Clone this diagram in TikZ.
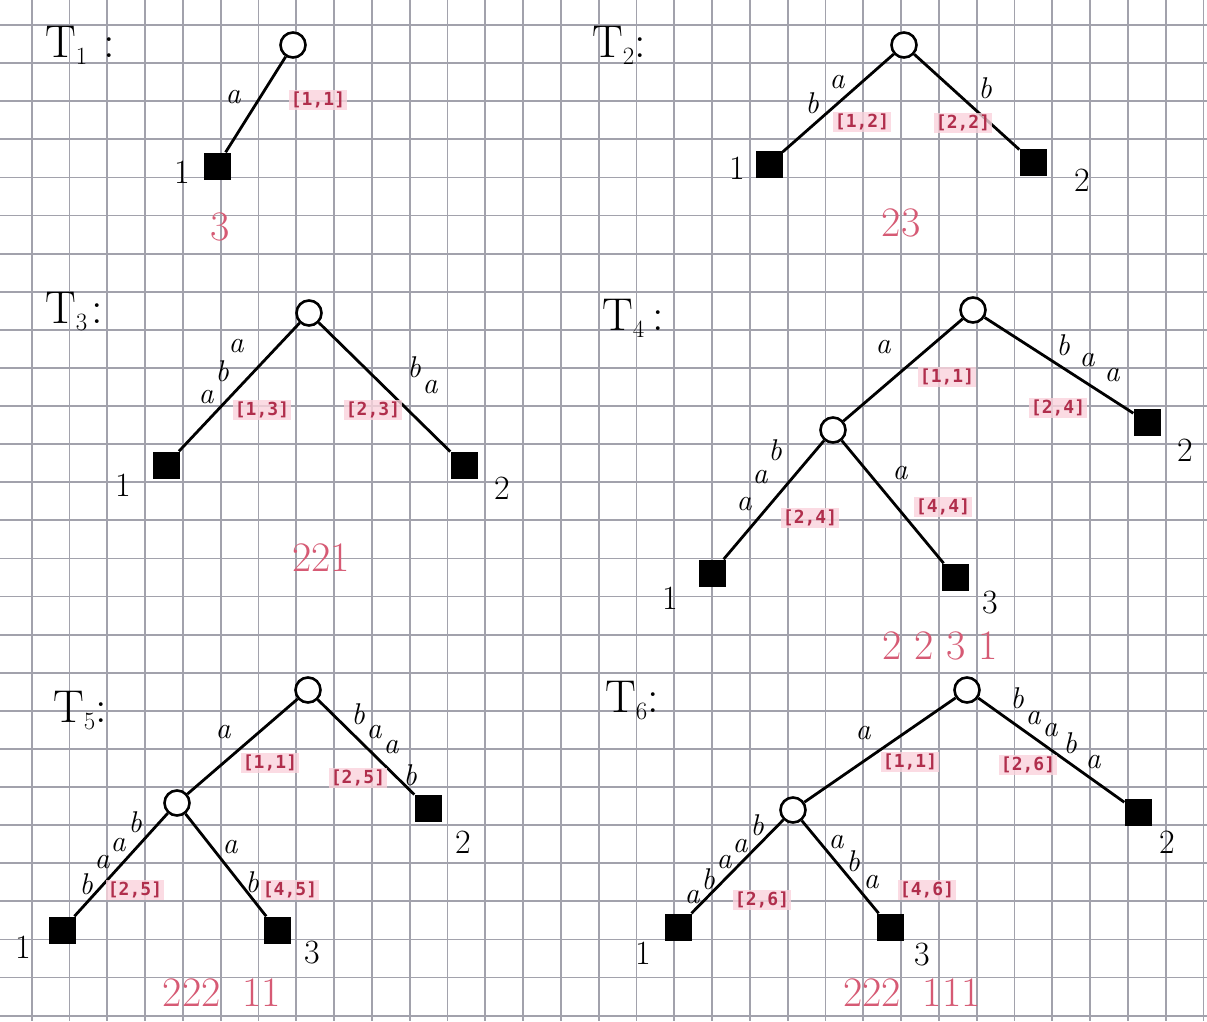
\documentclass[tikz,border=0pt]{standalone}
\usepackage{fontspec}
\newfontfamily\ivfont{DejaVu Sans Mono}
\usetikzlibrary{positioning}
\definecolor{ivred}{HTML}{B02E4C}
\definecolor{ivpink}{HTML}{FAD3DC}
\definecolor{cntred}{HTML}{D65A74}
\definecolor{gridgray}{HTML}{A2A2AC}

\begin{document}
\begin{tikzpicture}[x=1pt, y=-1pt,
    gridline/.style={draw=gridgray, line width=1.8pt},
    edge/.style={line width=2.8pt},
    inode/.style={circle, draw, line width=2.6pt, fill=white, minimum size=25pt, inner sep=0pt},
    leafnode/.style={rectangle, fill=black, minimum size=27pt, inner sep=0pt},
    sym/.style={font=\fontsize{30}{30}\selectfont\itshape, inner sep=0pt},
    num/.style={font=\fontsize{34}{34}\selectfont, inner sep=0pt},
    iv/.style={font=\ivfont\bfseries\fontsize{18}{18}\selectfont, text=ivred, fill=ivpink, fill opacity=0.8, text opacity=1, inner sep=1.5pt},
    cnt/.style={font=\fontsize{42}{42}\selectfont, text=cntred, inner sep=0pt},
    ttl/.style={font=\fontsize{46}{46}\selectfont, anchor=base west, inner sep=0pt},
  ]
    % Squared paper
    \fill[white] (0,0) rectangle (1207,1021);
    \useasboundingbox (0,0) rectangle (1207,1021);
    \foreach \i in {0,...,31}
      \draw[gridline] ({31.7+37.8*\i},0) -- ({31.7+37.8*\i},1021);
    \foreach \j in {0,...,26}
      \draw[gridline] (0,{25+38.1*\j}) -- (1207,{25+38.1*\j});

    % Titles
    \node[ttl] (t1) at (45,57) {T$_1$\hspace{16pt}:};
    \node[ttl] (t2) at (592,57) {T$_2$:};
    \node[ttl] (t3) at (45,323) {T$_3$\hspace{4pt}:};
    \node[ttl] (t4) at (602,330) {T$_4$\hspace{8pt}:};
    \node[ttl] (t5) at (53,722) {T$_5$:};
    \node[ttl] (t6) at (605,712) {T$_6$:};

    % T1
    \node[inode] (r1) at (293,45) {};
    \node[leafnode] (l11) at (217,166) {};
    \draw[edge] (r1) -- (l11);
    \node[num] (n11) at (182,172) {1};
    \node[sym] (e1a) at (233,97) {a};
    \node[iv] (i11) at (318,100) {[1,1]};
    \node[cnt] (c1) at (220,227) {3};

    % T2
    \node[inode] (r2) at (904,45) {};
    \node[leafnode] (l21) at (769,164) {};
    \node[leafnode] (l22) at (1033,162) {};
    \draw[edge] (r2) -- (l21);
    \draw[edge] (r2) -- (l22);
    \node[num] (n21) at (737,168) {1};
    \node[num] (n22) at (1082,180) {2};
    \foreach \c/\x/\y [count=\k] in {a/837/82, b/812/103}
      \node[sym] (e21\k) at (\x,\y) {\c};
    \node[sym] (e22) at (985,88) {b};
    \node[iv] (i21) at (862,122) {[1,2]};
    \node[iv] (i22) at (963,123) {[2,2]};
    \node[cnt] (c2) at (901,223) {23};

    % T3
    \node[inode] (r3) at (309,313) {};
    \node[leafnode] (l31) at (166,465) {};
    \node[leafnode] (l32) at (464,465) {};
    \draw[edge] (r3) -- (l31);
    \draw[edge] (r3) -- (l32);
    \node[num] (n31) at (123,485) {1};
    \node[num] (n32) at (502,488) {2};
    \foreach \c/\x/\y [count=\k] in {a/236/346, b/222/371, a/206/397}
      \node[sym] (e31\k) at (\x,\y) {\c};
    \foreach \c/\x/\y [count=\k] in {b/414/367, a/430/387}
      \node[sym] (e32\k) at (\x,\y) {\c};
    \node[iv] (i31) at (262,410) {[1,3]};
    \node[iv] (i32) at (373,410) {[2,3]};
    \node[cnt] (c3) at (321,558) {221};

    % T4
    \node[inode] (r4) at (973,310) {};
    \node[inode] (m4) at (833,430) {};
    \node[leafnode] (l41) at (712,573) {};
    \node[leafnode] (l42) at (1147,422) {};
    \node[leafnode] (l43) at (955,577) {};
    \draw[edge] (r4) -- (m4);
    \draw[edge] (r4) -- (l42);
    \draw[edge] (m4) -- (l41);
    \draw[edge] (m4) -- (l43);
    \node[num] (n41) at (670,598) {1};
    \node[num] (n42) at (1185,450) {2};
    \node[num] (n43) at (990,603) {3};
    \node[sym] (e4m) at (883,347) {a};
    \foreach \c/\x/\y [count=\k] in {b/1063/345, a/1087/360, a/1112/375}
      \node[sym] (e42\k) at (\x,\y) {\c};
    \foreach \c/\x/\y [count=\k] in {b/775/450, a/760/477, a/744/504}
      \node[sym] (e41\k) at (\x,\y) {\c};
    \node[sym] (e43) at (900,473) {a};
    \node[iv] (i4m) at (947,377) {[1,1]};
    \node[iv] (i42) at (1058,408) {[2,4]};
    \node[iv] (i41) at (810,518) {[2,4]};
    \node[iv] (i43) at (943,507) {[4,4]};
    \node[cnt] (c4) at (940,646) {2 2 3 1};

    % T5
    \node[inode] (r5) at (308,690) {};
    \node[inode] (m5) at (177,803) {};
    \node[leafnode] (l51) at (62,930) {};
    \node[leafnode] (l52) at (428,808) {};
    \node[leafnode] (l53) at (277,930) {};
    \draw[edge] (r5) -- (m5);
    \draw[edge] (r5) -- (l52);
    \draw[edge] (m5) -- (l51);
    \draw[edge] (m5) -- (l53);
    \node[num] (n51) at (23,947) {1};
    \node[num] (n52) at (463,842) {2};
    \node[num] (n53) at (312,953) {3};
    \node[sym] (e5m) at (223,732) {a};
    \foreach \c/\x/\y [count=\k] in {b/358/714, a/374/732, a/391/747, b/410/775}
      \node[sym] (e52\k) at (\x,\y) {\c};
    \foreach \c/\x/\y [count=\k] in {b/86/884, a/102/862, a/118/845, b/135/822}
      \node[sym] (e51\k) at (\x,\y) {\c};
    \foreach \c/\x/\y [count=\k] in {a/230/847, b/252/882}
      \node[sym] (e53\k) at (\x,\y) {\c};
    \node[iv] (i5m) at (270,763) {[1,1]};
    \node[iv] (i52) at (358,778) {[2,5]};
    \node[iv] (i51) at (135,890) {[2,5]};
    \node[iv] (i53) at (290,890) {[4,5]};
    \node[cnt] (c5) at (222,993) {222\hspace{22pt}11};

    % T6
    \node[inode] (r6) at (967,690) {};
    \node[inode] (m6) at (793,810) {};
    \node[leafnode] (l61) at (678,927) {};
    \node[leafnode] (l62) at (1138,812) {};
    \node[leafnode] (l63) at (890,927) {};
    \draw[edge] (r6) -- (m6);
    \draw[edge] (r6) -- (l62);
    \draw[edge] (m6) -- (l61);
    \draw[edge] (m6) -- (l63);
    \node[num] (n61) at (643,953) {1};
    \node[num] (n62) at (1167,842) {2};
    \node[num] (n63) at (922,955) {3};
    \node[sym] (e6m) at (863,733) {a};
    \foreach \c/\x/\y [count=\k] in {b/1017/698, a/1033/718, a/1050/730, b/1070/743, a/1093/762}
      \node[sym] (e62\k) at (\x,\y) {\c};
    \foreach \c/\x/\y [count=\k] in {a/692/897, b/708/879, a/724/862, a/740/846, b/757/825}
      \node[sym] (e61\k) at (\x,\y) {\c};
    \foreach \c/\x/\y [count=\k] in {a/836/842, b/853/861, a/871/882}
      \node[sym] (e63\k) at (\x,\y) {\c};
    \node[iv] (i6m) at (910,762) {[1,1]};
    \node[iv] (i62) at (1028,765) {[2,6]};
    \node[iv] (i61) at (762,900) {[2,6]};
    \node[iv] (i63) at (927,890) {[4,6]};
    \node[cnt] (c6) at (912,993) {222\hspace{22pt}111};
  \end{tikzpicture}
\end{document}
